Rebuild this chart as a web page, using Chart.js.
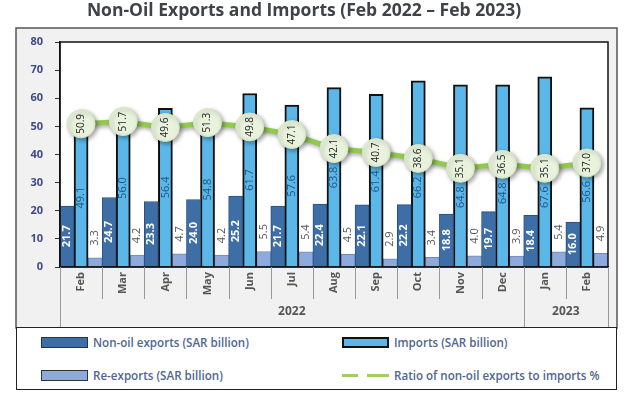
<!DOCTYPE html>
<html>
<head>
<meta charset="utf-8">
<script src="https://cdn.jsdelivr.net/npm/chart.js@4.4.1/dist/chart.umd.min.js"></script>
<style>
body { margin: 0; background: #fff; font-family: 'Open Sans', sans-serif; }
#wrap { position: relative; width: 630px; height: 398px; }
#legend { position: absolute; left: 16px; top: 327px; width: 601px; height: 63px; border: 1.5px solid #222; background: #fff; box-sizing: border-box; }
.item { position: absolute; display: flex; align-items: center; font-size: 11.6px; font-weight: 600; color: #4f6690; white-space: nowrap; }
.sw { width: 47px; height: 11px; margin-right: 5px; box-sizing: border-box; }
.dash { width: 47px; height: 3px; margin-right: 5px; background: linear-gradient(to right, #9fcf5c 0 16px, transparent 16px 25px, #9fcf5c 25px 47px); }
</style>
</head>
<body>
<div id="wrap">
  <canvas id="tradeChart" width="630" height="398"></canvas>
  <div id="legend">
    <div class="item" style="left:24px;top:7px;"><span class="sw" style="background:#3d6ea5;border:1px solid #1d3656;"></span>Non-oil exports (SAR billion)</div>
    <div class="item" style="left:325px;top:7px;"><span class="sw" style="background:#5bb7e8;border:2px solid #111;"></span>Imports (SAR billion)</div>
    <div class="item" style="left:24px;top:40px;"><span class="sw" style="background:#8eaadc;border:1px solid #333;"></span>Re-exports (SAR billion)</div>
    <div class="item" style="left:325px;top:40px;"><span class="dash"></span>Ratio of non-oil exports to imports %</div>
  </div>
</div>
<script>
// chart data
const months = ['Feb', 'Mar', 'Apr', 'May', 'Jun', 'Jul', 'Aug', 'Sep', 'Oct', 'Nov', 'Dec', 'Jan', 'Feb'];
const years = ['2022', '2023'];
const yearSpans = [11, 2];   // number of months in each year group
const nonOilExports = [21.7, 24.7, 23.3, 24.0, 25.2, 21.7, 22.4, 22.1, 22.2, 18.8, 19.7, 18.4, 16.0];
const imports = [49.1, 56.0, 56.4, 54.8, 61.7, 57.6, 63.8, 61.4, 66.2, 64.8, 64.8, 67.6, 56.6];
const reExports = [3.3, 4.2, 4.7, 4.2, 5.5, 5.4, 4.5, 2.9, 3.4, 4.0, 3.9, 5.4, 4.9];
const ratio = [50.9, 51.7, 49.6, 51.3, 49.8, 47.1, 42.1, 40.7, 38.6, 35.1, 36.5, 35.1, 37.0];
const yTicks = [0, 10, 20, 30, 40, 50, 60, 70, 80];

const FONT = "'Open Sans', sans-serif";
Chart.defaults.font.family = FONT;

function vText(ctx, txt, x, y, font, color) {
    ctx.save();
    ctx.translate(x, y);
    ctx.rotate(-Math.PI / 2);
    ctx.font = font;
    ctx.fillStyle = color;
    ctx.textAlign = 'center';
    ctx.textBaseline = 'middle';
    ctx.fillText(txt, 0, 0);
    ctx.restore();
}

// frame, separators, year labels and value labels
const decorPlugin = {
    id: 'decor',
    beforeDraw(chart) {
        const { ctx, chartArea: a } = chart;
        ctx.save();
        ctx.fillStyle = '#f1f1f1';
        ctx.fillRect(16, 28, 601, 300);
        ctx.strokeStyle = '#555';
        ctx.lineWidth = 1.5;
        ctx.strokeRect(16, 28, 601, 300);
        ctx.fillStyle = '#fff';
        ctx.fillRect(a.left, a.top, a.right - a.left, a.bottom - a.top);
        ctx.restore();
    },
    beforeDatasetDraw(chart, args) {
        if (args.index === 3) {
            const ctx = chart.ctx;
            ctx.save();
            ctx.shadowColor = 'rgba(0,0,0,0.35)';
            ctx.shadowBlur = 4;
            ctx.shadowOffsetX = 2;
            ctx.shadowOffsetY = 2;
        }
    },
    afterDatasetDraw(chart, args) {
        if (args.index === 3) chart.ctx.restore();
    },
    afterDatasetsDraw(chart) {
        const ctx = chart.ctx;
        const m0 = chart.getDatasetMeta(0), m1 = chart.getDatasetMeta(1);
        const m2 = chart.getDatasetMeta(2), m3 = chart.getDatasetMeta(3);
        const f = '11px ' + FONT;
        ctx.font = f;
        for (let i = 0; i < months.length; i++) {
            let el = m0.data[i];
            vText(ctx, nonOilExports[i].toFixed(1), el.x, (el.y + el.base) / 2, 'bold 11px ' + FONT, '#fff');

            el = m1.data[i];
            const t1 = imports[i].toFixed(1);
            const half = ctx.measureText(t1).width / 2;
            const below = m3.data[i].y + 14 + half + 4;
            vText(ctx, t1, el.x, Math.max((el.y + el.base) / 2, below), f, '#1d5485');

            el = m2.data[i];
            const t2 = reExports[i].toFixed(1);
            vText(ctx, t2, el.x, el.y - 12 - ctx.measureText(t2).width / 2, f, '#555');
        }
        for (let i = 0; i < months.length; i++) {
            const p = m3.data[i];
            vText(ctx, ratio[i].toFixed(1), p.x, p.y, '10px ' + FONT, '#222');
        }
    },
    afterDraw(chart) {
        const { ctx, chartArea: a } = chart;
        const xs = chart.scales.x;
        ctx.save();
        ctx.strokeStyle = '#111';
        ctx.lineWidth = 1.5;
        ctx.strokeRect(a.left, a.top, a.right - a.left, a.bottom - a.top);

        const edge = (i) => i <= 0 ? a.left : i >= months.length ? a.right
            : (xs.getPixelForValue(i - 1) + xs.getPixelForValue(i)) / 2;
        const yearEdges = [0];
        yearSpans.forEach(s => yearEdges.push(yearEdges[yearEdges.length - 1] + s));

        ctx.strokeStyle = '#999';
        ctx.lineWidth = 1;
        for (let i = 0; i <= months.length; i++) {
            const x = Math.round(edge(i)) + 0.5;
            const long = yearEdges.includes(i);
            ctx.beginPath();
            ctx.moveTo(x, a.bottom);
            ctx.lineTo(x, long ? 327 : 299);
            ctx.stroke();
        }
        ctx.font = 'bold 12px ' + FONT;
        ctx.fillStyle = '#555';
        ctx.textAlign = 'center';
        ctx.textBaseline = 'middle';
        years.forEach((y, k) => {
            ctx.fillText(y, (edge(yearEdges[k]) + edge(yearEdges[k + 1])) / 2, 312);
        });
        ctx.restore();
    }
};

const ctx = document.getElementById('tradeChart').getContext('2d');
new Chart(ctx, {
    type: 'bar',
    data: {
        labels: months,
        datasets: [{
            label: 'Non-oil exports (SAR billion)',
            data: nonOilExports,
            backgroundColor: '#3d6ea5',
            borderColor: '#2a5283',
            borderWidth: 1,
            order: 1,
        }, {
            label: 'Imports (SAR billion)',
            data: imports,
            backgroundColor: '#5bb7e8',
            borderColor: '#111',
            borderWidth: 2,
            order: 1,
        }, {
            label: 'Re-exports (SAR billion)',
            data: reExports,
            backgroundColor: '#8eaadc',
            borderColor: '#7088bb',
            borderWidth: 1,
            order: 1,
        }, {
            type: 'line',
            label: 'Ratio of non-oil exports to imports %',
            data: ratio,
            borderColor: '#92c94f',
            borderWidth: 5,
            pointRadius: 14,
            pointBackgroundColor: '#e8f2dd',
            pointBorderColor: '#d3e6bf',
            pointBorderWidth: 1,
            order: 0,
        }]
    },
    options: {
        responsive: false,
        animation: false,
        layout: { padding: { left: 0, right: 22, top: 0, bottom: 0 } },
        datasets: { bar: { categoryPercentage: 1, barPercentage: 1 } },
        scales: {
            x: {
                afterFit: (s) => { s.height = 131; },
                grid: { display: true, drawOnChartArea: false, drawTicks: false },
                border: { display: true, color: '#111', width: 1.5 },
                ticks: { minRotation: 90, maxRotation: 90, autoSkip: false, padding: 5,
                    font: { size: 11, weight: 'bold' }, color: '#555' }
            },
            y: {
                min: 0,
                max: 80,
                afterFit: (s) => { s.width = 60; },
                afterBuildTicks: (s) => { s.ticks = yTicks.map(v => ({ value: v })); },
                grid: { drawOnChartArea: false, drawTicks: true, tickLength: 5, color: '#333' },
                border: { display: true, color: '#111', width: 1.5 },
                ticks: { padding: 12, font: { size: 11, weight: 'bold' }, color: '#3c4a87' }
            }
        },
        plugins: {
            legend: { display: false },
            tooltip: { enabled: false },
            title: {
                display: true,
                text: 'Non-Oil Exports and Imports (Feb 2022 \u2013 Feb 2023)',
                font: { size: 17.5, weight: 'bold' },
                color: '#3f4348',
                padding: { top: 1, bottom: 20 }
            }
        }
    },
    plugins: [decorPlugin]
});
</script>
</body>
</html>
